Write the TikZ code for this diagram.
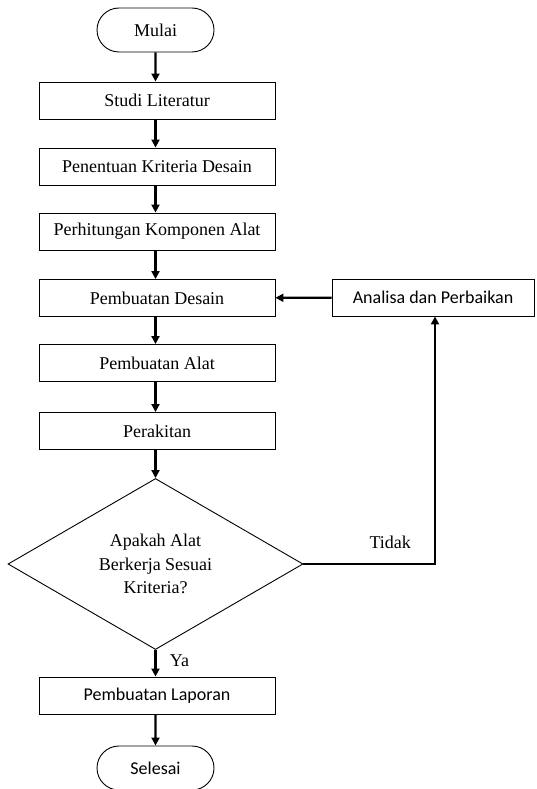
\documentclass[tikz,border=0pt]{standalone}
\usepackage{fontspec}
\setmainfont{Liberation Serif}
\newfontfamily\calibri{Carlito}
\usepackage{tikz}
\usetikzlibrary{shapes.geometric,shapes.misc,arrows.meta}

\begin{document}
\begin{tikzpicture}[x=1pt,y=-1pt,-{Triangle[length=8pt,width=8pt]},line width=2.2pt]
            \tikzstyle{proses}=[rectangle,draw=black,line width=0.9pt,fill=white,minimum width=236pt,minimum height=37pt,inner sep=0pt,font=\fontsize{18}{20}\selectfont]
            \tikzstyle{terminal}=[rounded rectangle,draw=black,line width=0.9pt,minimum width=117pt,minimum height=44pt,inner sep=0pt,font=\fontsize{18}{20}\selectfont]
            \tikzstyle{keputusan}=[diamond,draw=black,line width=0.9pt,minimum width=295pt,minimum height=171pt,inner sep=0pt,aspect=1.7,align=center,font=\fontsize{18}{23.5}\selectfont]
            \useasboundingbox (0,0) rectangle (537,789);

            \node[terminal] (mulai) at (155.5,30) {Mulai};
            \foreach \num/\y/\teks in {1/100.5/Studi Literatur, 2/166.5/Penentuan Kriteria Desain,
                    3/231.5/Perhitungan Komponen Alat, 4/298/Pembuatan Desain,
                    5/363/Pembuatan Alat, 6/431/Perakitan}
                    \node[proses] (P-\num) at (157,\y) {\teks};
            \node[keputusan] (cek) at (155.5,564) {Apakah Alat\\Berkerja Sesuai\\Kriteria?};
            \node[proses,font=\calibri\fontsize{18}{20}\selectfont] (laporan) at (157,695.5) {Pembuatan Laporan};
            \node[terminal,font=\calibri\fontsize{18}{20}\selectfont] (selesai) at (155.5,768) {Selesai};
            \node[proses,minimum width=202pt,font=\calibri\fontsize{18}{20}\selectfont] (analisa) at (433,297.5) {Analisa dan Perbaikan};

                \draw (mulai) -- (mulai |- P-1.north);
                \foreach \from/\to in {1/2, 2/3, 3/4, 4/5, 5/6}
                    \draw (mulai |- P-\from.south) -- (mulai |- P-\to.north);
                \draw (mulai |- P-6.south) -- (cek.north);
                \draw (cek.south) -- (mulai |- laporan.north) node[pos=0.4,right=10pt,font=\fontsize{18}{20}\selectfont] {Ya};
                \draw (cek.east) -| (435,0 |- analisa.south) node[pos=0.33,above=11pt,font=\fontsize{18}{20}\selectfont] {Tidak};
                \draw (mulai |- laporan.south) -- (selesai);
                \draw (analisa) -- (P-4);
        \end{tikzpicture}
\end{document}
